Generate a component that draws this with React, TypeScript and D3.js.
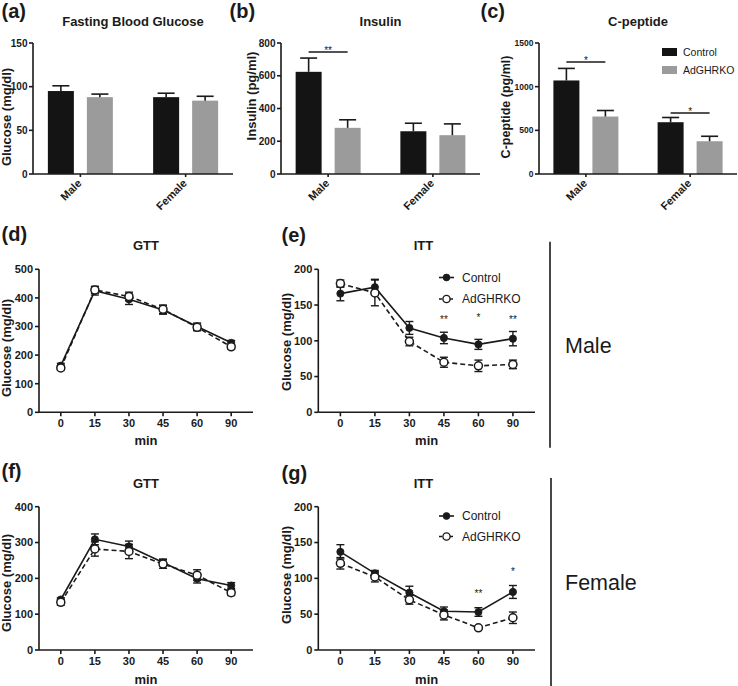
import React from "react";
import * as d3 from "d3";

// ---------- DATA ----------
const barCategories = ["Male", "Female"];
const seriesNames = ["Control", "AdGHRKO"];

const fbgControl = [95, 88];
const fbgControlErr = [6, 4.5];
const fbgKO = [88, 84];
const fbgKOErr = [3.5, 5];

const insulinControl = [624, 261];
const insulinControlErr = [84, 49];
const insulinKO = [282, 237];
const insulinKOErr = [49, 69];

const cpepControl = [1071, 593];
const cpepControlErr = [138, 54];
const cpepKO = [658, 375];
const cpepKOErr = [69, 57];

const fbgTicks = [0, 50, 100, 150];
const insulinTicks = [0, 200, 400, 600, 800];
const cpepTicks = [0, 500, 1000, 1500];

// significance brackets for bar charts: category, label, level (data units)
const insulinSigCats = ["Male"];
const insulinSigLabels = ["**"];
const insulinSigLevels = [745];
const cpepSigCats = ["Male", "Female"];
const cpepSigLabels = ["*", "*"];
const cpepSigLevels = [1282, 698];

const timepoints = ["0", "15", "30", "45", "60", "90"];

const gttMaleControl = [163, 425, 395, 358, 300, 243];
const gttMaleControlErr = [8, 15, 18, 15, 12, 8];
const gttMaleKO = [155, 428, 405, 360, 297, 229];
const gttMaleKOErr = [8, 12, 15, 15, 12, 8];

const ittMaleControl = [166, 175, 118, 104, 95, 103];
const ittMaleControlErr = [10, 11, 9, 8, 7, 10];
const ittMaleKO = [180, 167, 99, 70, 65, 67];
const ittMaleKOErr = [5, 18, 6, 7, 8, 6];
const ittMaleSig = ["", "", "", "**", "*", "**"];
const ittMaleSigLevel = [0, 0, 0, 133, 135, 133];

const gttFemaleControl = [141, 309, 289, 244, 199, 180];
const gttFemaleControlErr = [5, 15, 15, 10, 12, 8];
const gttFemaleKO = [133, 282, 275, 240, 209, 160];
const gttFemaleKOErr = [8, 20, 20, 12, 15, 8];

const ittFemaleControl = [137, 107, 80, 54, 53, 81];
const ittFemaleControlErr = [10, 4, 9, 6, 6, 9];
const ittFemaleKO = [121, 102, 70, 49, 31, 45];
const ittFemaleKOErr = [8, 7, 6, 7, 2, 8];
const ittFemaleSig = ["", "", "", "", "**", "*"];
const ittFemaleSigLevel = [0, 0, 0, 0, 81, 112];

const gttMaleTicks = [0, 100, 200, 300, 400, 500];
const ittTicks = [0, 50, 100, 150, 200];
const gttFemaleTicks = [0, 100, 200, 300, 400];

// ---------- STYLE ----------
const FONT = "'Liberation Sans', Arial, Helvetica, sans-serif";
const INK = "#1a1a1a";
const BLACK_BAR = "#141414";
const GRAY_BAR = "#9b9b9b";

type BarProps = {
  x0: number;
  x1: number;
  yTop: number;
  yBottom: number;
  ticks: number[];
  tickFont: number;
  control: number[];
  controlErr: number[];
  ko: number[];
  koErr: number[];
  title: string;
  label: string;
  labelX: number;
  yLabel: string;
  yLabelX: number;
  yLabelY: number;
  yLabelFont: number;
  sigCats?: string[];
  sigLabels?: string[];
  sigLevels?: number[];
  legend?: boolean;
};

function BarPanel(p: BarProps) {
  const yMax = p.ticks[p.ticks.length - 1];
  const y = d3.scaleLinear().domain([0, yMax]).range([p.yBottom, p.yTop]);
  const xc = d3.scalePoint().domain(barCategories).range([p.x0, p.x1]).padding(0.45);
  const inner = d3.scaleBand().domain(seriesNames).range([-32.5, 32.5]).paddingInner(1 / 3);
  const bw = inner.bandwidth();
  const series = [
    { name: "Control", vals: p.control, errs: p.controlErr, color: BLACK_BAR },
    { name: "AdGHRKO", vals: p.ko, errs: p.koErr, color: GRAY_BAR },
  ];
  return (
    <g>
      <text x={p.labelX} y={17.8} fontFamily={FONT} fontWeight="bold" fontSize={20} fill={INK}>
        {p.label}
      </text>
      <text x={(p.x0 + p.x1) / 2} y={26.3} textAnchor="middle" fontFamily={FONT} fontWeight="bold" fontSize={13} fill={INK}>
        {p.title}
      </text>
      <text
        transform={`translate(${p.yLabelX},${p.yLabelY}) rotate(-90)`}
        textAnchor="middle"
        fontFamily={FONT}
        fontWeight="bold"
        fontSize={p.yLabelFont}
        fill={INK}
      >
        {p.yLabel}
      </text>
      {series.map((s) =>
        barCategories.map((c, i) => {
          const cx = (xc(c) as number) + (inner(s.name) as number);
          const top = y(s.vals[i]);
          const et = y(s.vals[i] + s.errs[i]);
          const mid = cx + bw / 2;
          return (
            <g key={s.name + c}>
              <rect x={cx} y={top} width={bw} height={p.yBottom - top} fill={s.color} />
              <line x1={mid} x2={mid} y1={top} y2={et} stroke={INK} strokeWidth={1.6} />
              <line x1={mid - 8.5} x2={mid + 8.5} y1={et} y2={et} stroke={INK} strokeWidth={1.6} />
            </g>
          );
        })
      )}
      {/* axes */}
      <line x1={p.x0} x2={p.x0} y1={p.yTop} y2={p.yBottom} stroke={INK} strokeWidth={1.6} />
      <line x1={p.x0} x2={p.x1} y1={p.yBottom} y2={p.yBottom} stroke={INK} strokeWidth={1.6} />
      {p.ticks.map((t) => (
        <g key={t}>
          <line x1={p.x0 - 4} x2={p.x0} y1={y(t)} y2={y(t)} stroke={INK} strokeWidth={1.6} />
          <text
            x={p.x0 - 5.5}
            y={y(t) + p.tickFont * 0.36}
            textAnchor="end"
            fontFamily={FONT}
            fontWeight="bold"
            fontSize={p.tickFont}
            fill={INK}
          >
            {t}
          </text>
        </g>
      ))}
      {barCategories.map((c) => {
        const cx = xc(c) as number;
        return (
          <g key={c}>
            <line x1={cx} x2={cx} y1={p.yBottom} y2={p.yBottom + 3} stroke={INK} strokeWidth={1.6} />
            <text
              transform={`translate(${cx + 2},${p.yBottom + 10}) rotate(-45)`}
              textAnchor="end"
              fontFamily={FONT}
              fontWeight="bold"
              fontSize={11}
              fill={INK}
            >
              {c}
            </text>
          </g>
        );
      })}
      {(p.sigCats || []).map((c, i) => {
        const a = (xc(c) as number) + (inner("Control") as number) + bw / 2;
        const b = (xc(c) as number) + (inner("AdGHRKO") as number) + bw / 2;
        const ly = y((p.sigLevels as number[])[i]);
        return (
          <g key={"sig" + c}>
            <line x1={a} x2={b} y1={ly} y2={ly} stroke={INK} strokeWidth={1.4} />
            <text x={(a + b) / 2} y={ly + 1.5} textAnchor="middle" fontFamily={FONT} fontSize={10} fill={INK}>
              {(p.sigLabels as string[])[i]}
            </text>
          </g>
        );
      })}
      {p.legend &&
        series.map((s, i) => (
          <g key={"lg" + s.name}>
            <rect x={662} y={48 + i * 18} width={15} height={8} fill={s.color} />
            <text x={683} y={56 + i * 18} fontFamily={FONT} fontSize={10.5} fill={INK}>
              {s.name}
            </text>
          </g>
        ))}
    </g>
  );
}

type LineProps = {
  x0: number;
  x1: number;
  yTop: number;
  yBottom: number;
  ticks: number[];
  control: number[];
  controlErr: number[];
  ko: number[];
  koErr: number[];
  title: string;
  titleX: number;
  label: string;
  labelX: number;
  labelY: number;
  titleY: number;
  yLabelX: number;
  yLabelY: number;
  minY: number;
  sig?: string[];
  sigLevel?: number[];
  legendY?: number;
  legendGap?: number;
};

function LinePanel(p: LineProps) {
  const yMax = p.ticks[p.ticks.length - 1];
  const y = d3.scaleLinear().domain([0, yMax]).range([p.yBottom, p.yTop]);
  const x = d3.scalePoint().domain(timepoints).range([p.x0, p.x1]).padding(0.64);
  const line = d3
    .line<number>()
    .x((_, i) => x(timepoints[i]) as number)
    .y((v) => y(v));
  const series = [
    { name: "Control", vals: p.control, errs: p.controlErr, dash: undefined as string | undefined, open: false },
    { name: "AdGHRKO", vals: p.ko, errs: p.koErr, dash: "5,3", open: true },
  ];
  const cxMid = (p.x0 + p.x1) / 2;
  return (
    <g>
      <text x={p.labelX} y={p.labelY} fontFamily={FONT} fontWeight="bold" fontSize={20} fill={INK}>
        {p.label}
      </text>
      <text x={p.titleX} y={p.titleY} textAnchor="middle" fontFamily={FONT} fontWeight="bold" fontSize={13} fill={INK}>
        {p.title}
      </text>
      <text
        transform={`translate(${p.yLabelX},${p.yLabelY}) rotate(-90)`}
        textAnchor="middle"
        fontFamily={FONT}
        fontWeight="bold"
        fontSize={13}
        fill={INK}
      >
        Glucose (mg/dl)
      </text>
      <text x={cxMid} y={p.minY} textAnchor="middle" fontFamily={FONT} fontWeight="bold" fontSize={13} fill={INK}>
        min
      </text>
      {/* axes */}
      <line x1={p.x0} x2={p.x0} y1={p.yTop} y2={p.yBottom} stroke={INK} strokeWidth={1.6} />
      <line x1={p.x0} x2={p.x1} y1={p.yBottom} y2={p.yBottom} stroke={INK} strokeWidth={1.6} />
      {p.ticks.map((t) => (
        <g key={t}>
          <line x1={p.x0 - 4} x2={p.x0} y1={y(t)} y2={y(t)} stroke={INK} strokeWidth={1.6} />
          <text x={p.x0 - 6} y={y(t) + 3.8} textAnchor="end" fontFamily={FONT} fontWeight="bold" fontSize={11} fill={INK}>
            {t}
          </text>
        </g>
      ))}
      {timepoints.map((t) => {
        const tx = x(t) as number;
        return (
          <g key={t}>
            <line x1={tx} x2={tx} y1={p.yBottom} y2={p.yBottom + 4} stroke={INK} strokeWidth={1.6} />
            <text x={tx} y={p.yBottom + 15} textAnchor="middle" fontFamily={FONT} fontWeight="bold" fontSize={11} fill={INK}>
              {t}
            </text>
          </g>
        );
      })}
      {series.map((s) => (
        <g key={s.name}>
          <path d={line(s.vals) || ""} fill="none" stroke={INK} strokeWidth={1.6} strokeDasharray={s.dash} />
          {s.vals.map((v, i) => {
            const tx = x(timepoints[i]) as number;
            const lo = y(v - s.errs[i]);
            const hi = y(v + s.errs[i]);
            return (
              <g key={i}>
                <line x1={tx} x2={tx} y1={lo} y2={hi} stroke={INK} strokeWidth={1.4} />
                <line x1={tx - 4} x2={tx + 4} y1={lo} y2={lo} stroke={INK} strokeWidth={1.4} />
                <line x1={tx - 4} x2={tx + 4} y1={hi} y2={hi} stroke={INK} strokeWidth={1.4} />
              </g>
            );
          })}
        </g>
      ))}
      {series.map((s) =>
        s.vals.map((v, i) => (
          <circle
            key={s.name + i}
            cx={x(timepoints[i]) as number}
            cy={y(v)}
            r={s.open ? 4 : 3.6}
            fill={s.open ? "#fff" : INK}
            stroke={INK}
            strokeWidth={s.open ? 1.5 : 0.8}
          />
        ))
      )}
      {(p.sig || []).map((s, i) =>
        s ? (
          <text
            key={"sig" + i}
            x={x(timepoints[i]) as number}
            y={y((p.sigLevel as number[])[i]) + 5.5}
            textAnchor="middle"
            fontFamily={FONT}
            fontSize={10}
            fill={INK}
          >
            {s}
          </text>
        ) : null
      )}
      {p.legendY !== undefined &&
        series.map((s, i) => {
          const ly = (p.legendY as number) + i * (p.legendGap as number);
          return (
            <g key={"lg" + s.name}>
              <line x1={439} x2={454} y1={ly} y2={ly} stroke={INK} strokeWidth={1.6} strokeDasharray={s.open ? "3,2.5" : undefined} />
              <circle cx={446.5} cy={ly} r={s.open ? 3.6 : 3.4} fill={s.open ? "#fff" : INK} stroke={INK} strokeWidth={s.open ? 1.4 : 0.8} />
              <text x={462} y={ly + 4.3} fontFamily={FONT} fontSize={12} fill={INK}>
                {s.name}
              </text>
            </g>
          );
        })}
    </g>
  );
}

export default function App() {
  return (
    <div style={{ position: "absolute", left: 0, top: 0, width: 738, height: 686, background: "#fff" }}>
      <svg width={738} height={686} viewBox="0 0 738 686" style={{ display: "block" }}>
        <rect x={0} y={0} width={738} height={686} fill="#fff" />
        <BarPanel
          x0={33}
          x1={233}
          yTop={43}
          yBottom={174}
          ticks={fbgTicks}
          tickFont={10}
          control={fbgControl}
          controlErr={fbgControlErr}
          ko={fbgKO}
          koErr={fbgKOErr}
          title="Fasting Blood Glucose"
          label="(a)"
          labelX={1.5}
          yLabel="Glucose (mg/dl)"
          yLabelX={11}
          yLabelY={117}
          yLabelFont={13}
        />
        <BarPanel
          x0={281}
          x1={480}
          yTop={43}
          yBottom={174}
          ticks={insulinTicks}
          tickFont={10}
          control={insulinControl}
          controlErr={insulinControlErr}
          ko={insulinKO}
          koErr={insulinKOErr}
          title="Insulin"
          label="(b)"
          labelX={229.5}
          yLabel="Insulin (pg/ml)"
          yLabelX={255.5}
          yLabelY={96}
          yLabelFont={13}
          sigCats={insulinSigCats}
          sigLabels={insulinSigLabels}
          sigLevels={insulinSigLevels}
        />
        <BarPanel
          x0={539}
          x1={737}
          yTop={43}
          yBottom={174}
          ticks={cpepTicks}
          tickFont={8.5}
          control={cpepControl}
          controlErr={cpepControlErr}
          ko={cpepKO}
          koErr={cpepKOErr}
          title="C-peptide"
          label="(c)"
          labelX={480.5}
          yLabel="C-peptide (pg/ml)"
          yLabelX={509.5}
          yLabelY={107}
          yLabelFont={12.5}
          sigCats={cpepSigCats}
          sigLabels={cpepSigLabels}
          sigLevels={cpepSigLevels}
          legend
        />
        <LinePanel
          x0={39}
          x1={253}
          yTop={269.3}
          yBottom={412.3}
          ticks={gttMaleTicks}
          control={gttMaleControl}
          controlErr={gttMaleControlErr}
          ko={gttMaleKO}
          koErr={gttMaleKOErr}
          title="GTT"
          titleX={146}
          label="(d)"
          labelX={1.5}
          labelY={240.6}
          titleY={250}
          yLabelX={11}
          yLabelY={348}
          minY={445}
        />
        <LinePanel
          x0={318.3}
          x1={535}
          yTop={269.3}
          yBottom={412.3}
          ticks={ittTicks}
          control={ittMaleControl}
          controlErr={ittMaleControlErr}
          ko={ittMaleKO}
          koErr={ittMaleKOErr}
          title="ITT"
          titleX={423.5}
          label="(e)"
          labelX={281.5}
          labelY={242}
          titleY={250}
          yLabelX={290.5}
          yLabelY={342}
          minY={445}
          sig={ittMaleSig}
          sigLevel={ittMaleSigLevel}
          legendY={277.5}
          legendGap={21.5}
        />
        <LinePanel
          x0={39}
          x1={253}
          yTop={506.7}
          yBottom={650}
          ticks={gttFemaleTicks}
          control={gttFemaleControl}
          controlErr={gttFemaleControlErr}
          ko={gttFemaleKO}
          koErr={gttFemaleKOErr}
          title="GTT"
          titleX={146}
          label="(f)"
          labelX={1.5}
          labelY={477.5}
          titleY={488}
          yLabelX={11}
          yLabelY={583}
          minY={684}
        />
        <LinePanel
          x0={318.3}
          x1={535}
          yTop={506.7}
          yBottom={650}
          ticks={ittTicks}
          control={ittFemaleControl}
          controlErr={ittFemaleControlErr}
          ko={ittFemaleKO}
          koErr={ittFemaleKOErr}
          title="ITT"
          titleX={423.5}
          label="(g)"
          labelX={281.5}
          labelY={480}
          titleY={488}
          yLabelX={290.5}
          yLabelY={575}
          minY={684}
          sig={ittFemaleSig}
          sigLevel={ittFemaleSigLevel}
          legendY={516}
          legendGap={20.5}
        />
        {/* Sex dividers */}
        <line x1={550} x2={550} y1={241.7} y2={447.7} stroke={INK} strokeWidth={1.6} />
        <text x={565} y={353} fontFamily={FONT} fontSize={21.5} fill={INK}>
          Male
        </text>
        <line x1={551} x2={551} y1={478} y2={686} stroke={INK} strokeWidth={1.6} />
        <text x={565} y={590} fontFamily={FONT} fontSize={21.5} fill={INK}>
          Female
        </text>
      </svg>
    </div>
  );
}
